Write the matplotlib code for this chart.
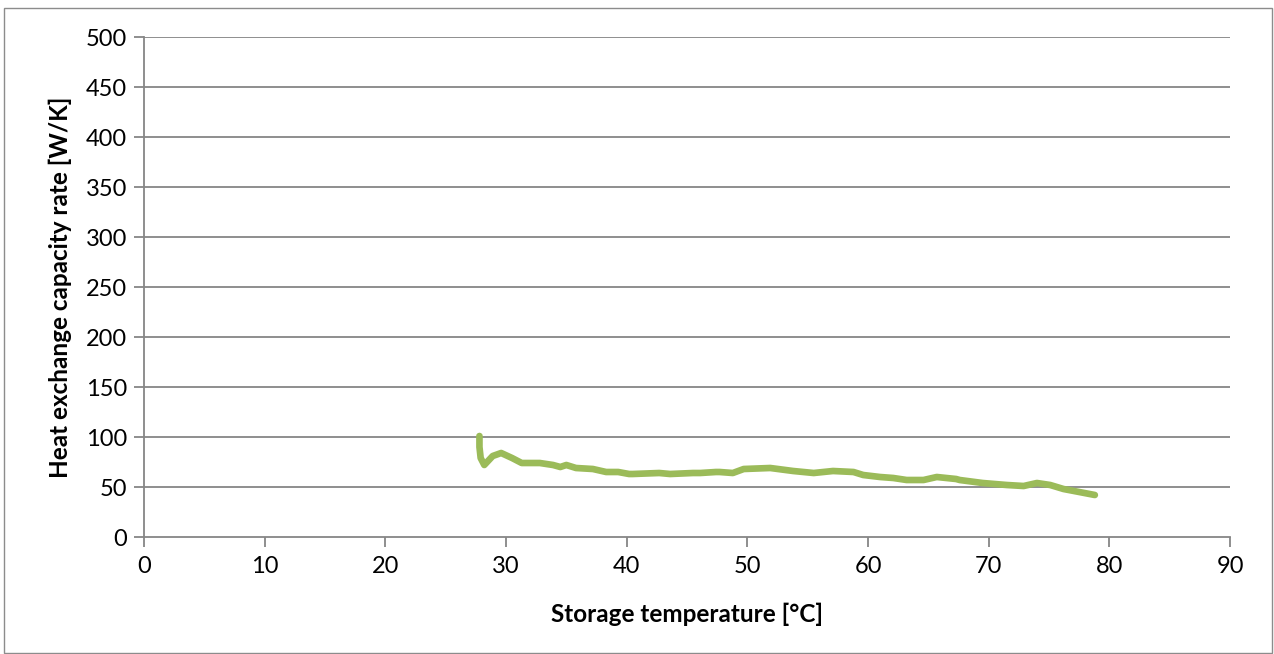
import matplotlib
matplotlib.use("Agg")
import matplotlib.pyplot as plt
from matplotlib.patches import Rectangle

plt.rcParams['font.family'] = ['Lato', 'DejaVu Sans']

temperature = [27.8, 27.8, 27.9, 28.2, 28.9, 29.6, 30.5, 31.3, 32.8, 33.9, 34.5, 35.0, 35.8,
               37.2, 38.3, 39.3, 40.2, 40.5, 42.7, 43.6, 45.5, 46.1, 47.4, 47.7, 48.8, 49.7,
               51.9, 53.8, 55.5, 57.1, 58.8, 59.6, 61.0, 62.1, 63.2, 64.6, 65.7, 67.3, 67.6,
               69.5, 71.5, 72.9, 74.0, 75.1, 76.2, 77.5, 78.8]
capacity_rate = [101, 90, 79, 72, 81, 84, 79, 74, 74, 72, 70, 72, 69,
                 68, 65, 65, 63, 63, 64, 63, 64, 64, 65, 65, 64, 68,
                 69, 66, 64, 66, 65, 62, 60, 59, 57, 57, 60, 58, 57,
                 54, 52, 51, 54, 52, 48, 45, 42]

x_ticks = list(range(0, 91, 10))
y_ticks = list(range(0, 501, 50))

W, H = 1274, 654
fig = plt.figure(figsize=(W / 100, H / 100), dpi=100)
fig.patches.append(Rectangle((4 / W, 1 / H), 1268 / W, (646 - 1) / H,
                             transform=fig.transFigure, fill=False,
                             edgecolor='#8c8c8c', linewidth=1.0))
ax = fig.add_axes([144 / W, 1 - 537 / H, (1230 - 144) / W, 500 / H])

grid_c = '#868686'
for y in y_ticks[1:]:
    ax.axhline(y, color=grid_c, linewidth=1.3, zorder=1)

ax.plot(temperature, capacity_rate, color='#9BBB59', linewidth=4.8,
        solid_capstyle='round', solid_joinstyle='round', zorder=3)

ax.set_xlim(0, 90)
ax.set_ylim(0, 500)
ax.set_xticks(x_ticks)
ax.set_yticks(y_ticks)
for s in ['top', 'right']:
    ax.spines[s].set_visible(False)
for s in ['left', 'bottom']:
    ax.spines[s].set_color(grid_c)
    ax.spines[s].set_linewidth(1.3)
ax.tick_params(axis='both', direction='out', length=7, width=1.3, color=grid_c,
               labelsize=17, labelcolor='black')
ax.tick_params(axis='x', pad=7)
ax.tick_params(axis='y', pad=5)

ax.set_xlabel('Storage temperature [°C]', fontsize=17.5, fontweight='bold', labelpad=18)
ax.set_ylabel('Heat exchange capacity rate [W/K]', fontsize=17.5, fontweight='bold', labelpad=10)

fig.savefig('out.png', dpi=100)
